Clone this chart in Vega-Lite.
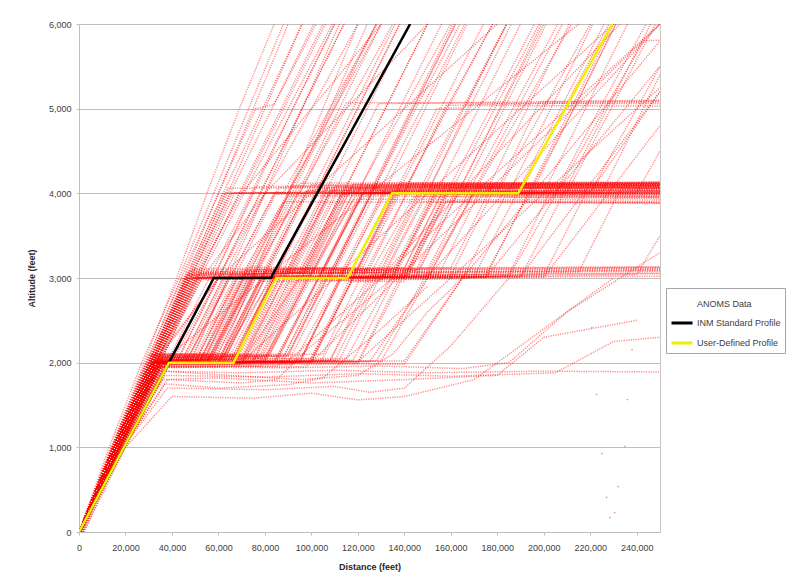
{
"$schema": "https://vega.github.io/schema/vega-lite/v6.json",
"width": 581, "height": 508,
"autosize": {"type": "none"},
"padding": {"left": 79, "top": 24, "right": 136, "bottom": 52},
"background": "white",
"config": {"view": {"stroke": "#c8c8c8"}, "font": "Liberation Sans"},
"datasets": {
"profiles": [
{"s":"INM Standard Profile","x":0,"y":0},{"s":"INM Standard Profile","x":38700,"y":2000},{"s":"INM Standard Profile","x":58000,"y":3000},{"s":"INM Standard Profile","x":82500,"y":3000},{"s":"INM Standard Profile","x":142500,"y":6000},
{"s":"User-Defined Profile","x":0,"y":0},{"s":"User-Defined Profile","x":38700,"y":2000},{"s":"User-Defined Profile","x":66500,"y":2000},{"s":"User-Defined Profile","x":84800,"y":3000},{"s":"User-Defined Profile","x":115500,"y":3000},{"s":"User-Defined Profile","x":134700,"y":4000},{"s":"User-Defined Profile","x":189000,"y":4000},{"s":"User-Defined Profile","x":229500,"y":6000}
],
"dots": [
{"x":222700,"y":1624},{"x":236000,"y":1565},{"x":235000,"y":1010},{"x":225000,"y":927},{"x":232000,"y":537},{"x":227000,"y":408},{"x":230500,"y":230},{"x":228500,"y":171},{"x":220700,"y":2415},{"x":238000,"y":2155}
],
"tracks": [
{"t":1,"x":0,"y":0},{"t":1,"x":15000,"y":1000},{"t":1,"x":31000,"y":2010},{"t":1,"x":48000,"y":2030},{"t":1,"x":65000,"y":3040},{"t":1,"x":98000,"y":3060},{"t":1,"x":116000,"y":4050},{"t":1,"x":250000,"y":4060},
{"t":2,"x":0,"y":0},{"t":2,"x":16000,"y":1000},{"t":2,"x":33000,"y":1990},{"t":2,"x":56000,"y":2000},{"t":2,"x":74000,"y":3000},{"t":2,"x":120000,"y":3010},{"t":2,"x":138000,"y":4000},{"t":2,"x":250000,"y":4010},
{"t":3,"x":1000,"y":0},{"t":3,"x":17500,"y":1000},{"t":3,"x":35000,"y":2050},{"t":3,"x":62000,"y":2060},{"t":3,"x":80000,"y":3080},{"t":3,"x":105000,"y":3090},{"t":3,"x":124000,"y":4080},{"t":3,"x":250000,"y":4100},
{"t":4,"x":0,"y":0},{"t":4,"x":18000,"y":1000},{"t":4,"x":37000,"y":1970},{"t":4,"x":70000,"y":1980},{"t":4,"x":88000,"y":2990},{"t":4,"x":140000,"y":3000},{"t":4,"x":157000,"y":3990},{"t":4,"x":250000,"y":3970},
{"t":5,"x":0,"y":0},{"t":5,"x":15500,"y":1000},{"t":5,"x":32000,"y":2000},{"t":5,"x":52000,"y":2020},{"t":5,"x":70000,"y":3020},{"t":5,"x":90000,"y":3040},{"t":5,"x":108000,"y":4030},{"t":5,"x":250000,"y":4040},
{"t":6,"x":2000,"y":0},{"t":6,"x":19000,"y":1000},{"t":6,"x":38000,"y":2030},{"t":6,"x":80000,"y":2050},{"t":6,"x":99000,"y":3050},{"t":6,"x":135000,"y":3070},{"t":6,"x":153000,"y":4060},{"t":6,"x":250000,"y":4080},
{"t":7,"x":0,"y":0},{"t":7,"x":16500,"y":1000},{"t":7,"x":34000,"y":1950},{"t":7,"x":86000,"y":1960},{"t":7,"x":105000,"y":2970},{"t":7,"x":165000,"y":2990},{"t":7,"x":183000,"y":3950},{"t":7,"x":250000,"y":3940},
{"t":8,"x":0,"y":0},{"t":8,"x":17000,"y":1000},{"t":8,"x":35500,"y":2010},{"t":8,"x":65000,"y":2020},{"t":8,"x":84000,"y":3010},{"t":8,"x":112000,"y":3030},{"t":8,"x":131000,"y":4020},{"t":8,"x":250000,"y":4000},
{"t":9,"x":500,"y":0},{"t":9,"x":16000,"y":1000},{"t":9,"x":33500,"y":2080},{"t":9,"x":58000,"y":2090},{"t":9,"x":76000,"y":3100},{"t":9,"x":125000,"y":3110},{"t":9,"x":143000,"y":4110},{"t":9,"x":250000,"y":4120},
{"t":10,"x":0,"y":0},{"t":10,"x":17500,"y":1000},{"t":10,"x":36000,"y":1980},{"t":10,"x":76000,"y":1990},{"t":10,"x":94000,"y":2980},{"t":10,"x":150000,"y":2990},{"t":10,"x":169000,"y":3980},{"t":10,"x":250000,"y":3960},
{"t":11,"x":0,"y":0},{"t":11,"x":15000,"y":1000},{"t":11,"x":31500,"y":2040},{"t":11,"x":54000,"y":2050},{"t":11,"x":72000,"y":3050},{"t":11,"x":95000,"y":3060},{"t":11,"x":113000,"y":4000},{"t":11,"x":250000,"y":3990},
{"t":12,"x":1500,"y":0},{"t":12,"x":18500,"y":1000},{"t":12,"x":37500,"y":2000},{"t":12,"x":100000,"y":2010},{"t":12,"x":118000,"y":3020},{"t":12,"x":185000,"y":3040},{"t":12,"x":203000,"y":4040},{"t":12,"x":250000,"y":4050},
{"t":13,"x":0,"y":0},{"t":13,"x":16000,"y":1000},{"t":13,"x":33000,"y":2020},{"t":13,"x":60000,"y":2040},{"t":13,"x":98000,"y":4020},{"t":13,"x":250000,"y":4030},
{"t":14,"x":0,"y":0},{"t":14,"x":17000,"y":1000},{"t":14,"x":35000,"y":1990},{"t":14,"x":72000,"y":2000},{"t":14,"x":110000,"y":3990},{"t":14,"x":250000,"y":3980},
{"t":15,"x":1000,"y":0},{"t":15,"x":18000,"y":1000},{"t":15,"x":36500,"y":2060},{"t":15,"x":50000,"y":2070},{"t":15,"x":86000,"y":4070},{"t":15,"x":250000,"y":4090},
{"t":16,"x":0,"y":0},{"t":16,"x":15500,"y":1000},{"t":16,"x":32500,"y":2000},{"t":16,"x":84000,"y":2010},{"t":16,"x":122000,"y":4010},{"t":16,"x":250000,"y":4010},
{"t":17,"x":0,"y":0},{"t":17,"x":16500,"y":1000},{"t":17,"x":34500,"y":1970},{"t":17,"x":92000,"y":1980},{"t":17,"x":132000,"y":4000},{"t":17,"x":250000,"y":4020},
{"t":18,"x":2000,"y":0},{"t":18,"x":20000,"y":1000},{"t":18,"x":40000,"y":2030},{"t":18,"x":68000,"y":2040},{"t":18,"x":106000,"y":4050},{"t":18,"x":250000,"y":4060},
{"t":19,"x":0,"y":0},{"t":19,"x":17500,"y":1000},{"t":19,"x":36000,"y":2000},{"t":19,"x":104000,"y":2010},{"t":19,"x":144000,"y":3960},{"t":19,"x":250000,"y":3950},
{"t":20,"x":0,"y":0},{"t":20,"x":16000,"y":1000},{"t":20,"x":33500,"y":1950},{"t":20,"x":78000,"y":1960},{"t":20,"x":118000,"y":3930},{"t":20,"x":250000,"y":3920},
{"t":21,"x":0,"y":0},{"t":21,"x":18000,"y":1000},{"t":21,"x":37000,"y":2040},{"t":21,"x":115000,"y":2050},{"t":21,"x":155000,"y":4030},{"t":21,"x":250000,"y":4040},
{"t":22,"x":0,"y":0},{"t":22,"x":15000,"y":1000},{"t":22,"x":31000,"y":2000},{"t":22,"x":46000,"y":2010},{"t":22,"x":84000,"y":3990},{"t":22,"x":250000,"y":4000},
{"t":23,"x":0,"y":0},{"t":23,"x":15000,"y":1000},{"t":23,"x":30000,"y":2000},{"t":23,"x":46000,"y":3030},{"t":23,"x":80000,"y":3050},{"t":23,"x":98000,"y":4040},{"t":23,"x":250000,"y":4070},
{"t":24,"x":0,"y":0},{"t":24,"x":16000,"y":1000},{"t":24,"x":32000,"y":2000},{"t":24,"x":49000,"y":3000},{"t":24,"x":108000,"y":3010},{"t":24,"x":126000,"y":4000},{"t":24,"x":250000,"y":4010},
{"t":25,"x":1000,"y":0},{"t":25,"x":17000,"y":1000},{"t":25,"x":34000,"y":2000},{"t":25,"x":52000,"y":3060},{"t":25,"x":92000,"y":3080},{"t":25,"x":110000,"y":4080},{"t":25,"x":250000,"y":4100},
{"t":26,"x":0,"y":0},{"t":26,"x":14000,"y":1000},{"t":26,"x":29000,"y":2000},{"t":26,"x":44000,"y":2990},{"t":26,"x":130000,"y":3000},{"t":26,"x":149000,"y":3990},{"t":26,"x":250000,"y":3990},
{"t":27,"x":0,"y":0},{"t":27,"x":15500,"y":1000},{"t":27,"x":31500,"y":2000},{"t":27,"x":48000,"y":3020},{"t":27,"x":118000,"y":3030},{"t":27,"x":136000,"y":4030},{"t":27,"x":250000,"y":4030},
{"t":28,"x":0,"y":0},{"t":28,"x":16500,"y":1000},{"t":28,"x":33000,"y":2000},{"t":28,"x":50000,"y":2980},{"t":28,"x":72000,"y":2990},{"t":28,"x":90000,"y":3970},{"t":28,"x":250000,"y":3960},
{"t":29,"x":0,"y":0},{"t":29,"x":14500,"y":1000},{"t":29,"x":30000,"y":2000},{"t":29,"x":47000,"y":3040},{"t":29,"x":100000,"y":3060},{"t":29,"x":119000,"y":4060},{"t":29,"x":250000,"y":4070},
{"t":30,"x":0,"y":0},{"t":30,"x":17000,"y":1000},{"t":30,"x":34500,"y":2000},{"t":30,"x":53000,"y":3010},{"t":30,"x":160000,"y":3030},{"t":30,"x":178000,"y":4020},{"t":30,"x":250000,"y":4030},
{"t":31,"x":0,"y":0},{"t":31,"x":15000,"y":1000},{"t":31,"x":31000,"y":2000},{"t":31,"x":47000,"y":3050},{"t":31,"x":250000,"y":3100},
{"t":32,"x":0,"y":0},{"t":32,"x":16500,"y":1000},{"t":32,"x":34000,"y":2030},{"t":32,"x":70000,"y":2040},{"t":32,"x":88000,"y":3060},{"t":32,"x":250000,"y":3080},
{"t":33,"x":0,"y":0},{"t":33,"x":15500,"y":1000},{"t":33,"x":32000,"y":2000},{"t":33,"x":49000,"y":3000},{"t":33,"x":250000,"y":3020},
{"t":34,"x":1000,"y":0},{"t":34,"x":18000,"y":1000},{"t":34,"x":36000,"y":2000},{"t":34,"x":55000,"y":2010},{"t":34,"x":73000,"y":3020},{"t":34,"x":250000,"y":3060},
{"t":35,"x":0,"y":0},{"t":35,"x":14500,"y":1000},{"t":35,"x":30500,"y":2000},{"t":35,"x":46500,"y":3070},{"t":35,"x":250000,"y":3120},
{"t":36,"x":0,"y":0},{"t":36,"x":17000,"y":1000},{"t":36,"x":35000,"y":1990},{"t":36,"x":95000,"y":2000},{"t":36,"x":113000,"y":3040},{"t":36,"x":250000,"y":3050},
{"t":37,"x":0,"y":0},{"t":37,"x":16000,"y":1000},{"t":37,"x":33000,"y":2000},{"t":37,"x":50000,"y":2010},{"t":37,"x":68000,"y":3030},{"t":37,"x":84000,"y":3040},{"t":37,"x":138000,"y":6000},
{"t":38,"x":0,"y":0},{"t":38,"x":15000,"y":1000},{"t":38,"x":31000,"y":2020},{"t":38,"x":64000,"y":2030},{"t":38,"x":82000,"y":3000},{"t":38,"x":108000,"y":3010},{"t":38,"x":162000,"y":6000},
{"t":39,"x":0,"y":0},{"t":39,"x":17000,"y":1000},{"t":39,"x":35000,"y":1980},{"t":39,"x":74000,"y":1990},{"t":39,"x":93000,"y":3050},{"t":39,"x":130000,"y":3060},{"t":39,"x":184000,"y":6000},
{"t":40,"x":0,"y":0},{"t":40,"x":16000,"y":1000},{"t":40,"x":33500,"y":2040},{"t":40,"x":54000,"y":2050},{"t":40,"x":72000,"y":3080},{"t":40,"x":146000,"y":3090},{"t":40,"x":200000,"y":6000},
{"t":41,"x":0,"y":0},{"t":41,"x":15500,"y":1000},{"t":41,"x":32000,"y":2000},{"t":41,"x":45000,"y":2010},{"t":41,"x":63000,"y":3000},{"t":41,"x":170000,"y":3020},{"t":41,"x":226000,"y":6000},
{"t":42,"x":1000,"y":0},{"t":42,"x":17500,"y":1000},{"t":42,"x":35500,"y":2060},{"t":42,"x":88000,"y":2070},{"t":42,"x":106000,"y":3060},{"t":42,"x":120000,"y":3070},{"t":42,"x":174000,"y":6000},
{"t":43,"x":0,"y":0},{"t":43,"x":16500,"y":1000},{"t":43,"x":34000,"y":2000},{"t":43,"x":58000,"y":2000},{"t":43,"x":76000,"y":3010},{"t":43,"x":96000,"y":3020},{"t":43,"x":150000,"y":6000},
{"t":44,"x":0,"y":0},{"t":44,"x":18000,"y":1000},{"t":44,"x":37000,"y":2010},{"t":44,"x":100000,"y":2020},{"t":44,"x":118000,"y":3000},{"t":44,"x":190000,"y":3010},{"t":44,"x":246000,"y":6000},
{"t":45,"x":0,"y":0},{"t":45,"x":15000,"y":1000},{"t":45,"x":31000,"y":2000},{"t":45,"x":42000,"y":2010},{"t":45,"x":114000,"y":6000},
{"t":46,"x":0,"y":0},{"t":46,"x":16000,"y":1000},{"t":46,"x":33000,"y":2030},{"t":46,"x":56000,"y":2040},{"t":46,"x":128000,"y":6000},
{"t":47,"x":0,"y":0},{"t":47,"x":17000,"y":1000},{"t":47,"x":35000,"y":2000},{"t":47,"x":66000,"y":2010},{"t":47,"x":138000,"y":6000},
{"t":48,"x":0,"y":0},{"t":48,"x":15500,"y":1000},{"t":48,"x":32000,"y":1990},{"t":48,"x":48000,"y":2000},{"t":48,"x":112000,"y":6000},
{"t":49,"x":0,"y":0},{"t":49,"x":16500,"y":1000},{"t":49,"x":34000,"y":2050},{"t":49,"x":78000,"y":2060},{"t":49,"x":150000,"y":6000},
{"t":50,"x":0,"y":0},{"t":50,"x":18000,"y":1000},{"t":50,"x":37000,"y":2000},{"t":50,"x":88000,"y":2010},{"t":50,"x":164000,"y":6000},
{"t":51,"x":0,"y":0},{"t":51,"x":16000,"y":1000},{"t":51,"x":33000,"y":2010},{"t":51,"x":108000,"y":2020},{"t":51,"x":184000,"y":6000},
{"t":52,"x":0,"y":0},{"t":52,"x":17500,"y":1000},{"t":52,"x":36000,"y":1980},{"t":52,"x":120000,"y":1990},{"t":52,"x":196000,"y":6000},
{"t":53,"x":0,"y":0},{"t":53,"x":15000,"y":1000},{"t":53,"x":31500,"y":2000},{"t":53,"x":60000,"y":2010},{"t":53,"x":120000,"y":6000},
{"t":54,"x":0,"y":0},{"t":54,"x":16500,"y":1000},{"t":54,"x":34000,"y":2000},{"t":54,"x":128000,"y":2020},{"t":54,"x":212000,"y":6000},
{"t":55,"x":0,"y":0},{"t":55,"x":14000,"y":1000},{"t":55,"x":28000,"y":2000},{"t":55,"x":42000,"y":3000},{"t":55,"x":55000,"y":4000},{"t":55,"x":69000,"y":5000},{"t":55,"x":84000,"y":6000},
{"t":56,"x":0,"y":0},{"t":56,"x":15000,"y":1000},{"t":56,"x":30000,"y":2000},{"t":56,"x":45000,"y":3000},{"t":56,"x":60000,"y":4000},{"t":56,"x":75000,"y":5000},{"t":56,"x":90000,"y":6000},
{"t":57,"x":0,"y":0},{"t":57,"x":13000,"y":1000},{"t":57,"x":27000,"y":2000},{"t":57,"x":43000,"y":3000},{"t":57,"x":58000,"y":4000},{"t":57,"x":73000,"y":5000},{"t":57,"x":88000,"y":6000},
{"t":58,"x":0,"y":0},{"t":58,"x":16000,"y":1000},{"t":58,"x":32000,"y":2000},{"t":58,"x":48000,"y":3000},{"t":58,"x":64000,"y":4000},{"t":58,"x":80000,"y":5000},{"t":58,"x":96000,"y":6000},
{"t":59,"x":0,"y":0},{"t":59,"x":15000,"y":1000},{"t":59,"x":31000,"y":2000},{"t":59,"x":48000,"y":3000},{"t":59,"x":65000,"y":4000},{"t":59,"x":83000,"y":5000},{"t":59,"x":101000,"y":6000},
{"t":60,"x":0,"y":0},{"t":60,"x":16000,"y":1000},{"t":60,"x":33000,"y":2000},{"t":60,"x":51000,"y":3000},{"t":60,"x":69000,"y":4000},{"t":60,"x":87000,"y":5000},{"t":60,"x":105000,"y":6000},
{"t":61,"x":0,"y":0},{"t":61,"x":17000,"y":1000},{"t":61,"x":34000,"y":1900},{"t":61,"x":70000,"y":1880},{"t":61,"x":110000,"y":1910},{"t":61,"x":150000,"y":1880},{"t":61,"x":200000,"y":1900},{"t":61,"x":250000,"y":1890},
{"t":62,"x":0,"y":0},{"t":62,"x":18000,"y":1000},{"t":62,"x":36000,"y":1800},{"t":62,"x":60000,"y":1820},{"t":62,"x":100000,"y":1760},{"t":62,"x":140000,"y":1800},{"t":62,"x":180000,"y":1850},{"t":62,"x":200000,"y":2300},{"t":62,"x":240000,"y":2500},
{"t":63,"x":1000,"y":0},{"t":63,"x":19000,"y":1000},{"t":63,"x":38000,"y":1700},{"t":63,"x":80000,"y":1680},{"t":63,"x":110000,"y":1720},{"t":63,"x":125000,"y":1650},{"t":63,"x":140000,"y":1700},{"t":63,"x":160000,"y":2200},{"t":63,"x":185000,"y":3000},
{"t":64,"x":0,"y":0},{"t":64,"x":17500,"y":1000},{"t":64,"x":35000,"y":1950},{"t":64,"x":90000,"y":1940},{"t":64,"x":130000,"y":1960},{"t":64,"x":165000,"y":1930},{"t":64,"x":185000,"y":2000},{"t":64,"x":210000,"y":2600},{"t":64,"x":250000,"y":3300},
{"t":65,"x":0,"y":0},{"t":65,"x":20000,"y":1000},{"t":65,"x":40000,"y":1600},{"t":65,"x":75000,"y":1580},{"t":65,"x":100000,"y":1640},{"t":65,"x":120000,"y":1560},{"t":65,"x":140000,"y":1600},{"t":65,"x":170000,"y":1800},{"t":65,"x":200000,"y":2400},{"t":65,"x":230000,"y":3000},
{"t":66,"x":0,"y":0},{"t":66,"x":16000,"y":1000},{"t":66,"x":33000,"y":2000},{"t":66,"x":60000,"y":2010},{"t":66,"x":78000,"y":3000},{"t":66,"x":96000,"y":3010},{"t":66,"x":114000,"y":4000},{"t":66,"x":150000,"y":4010},{"t":66,"x":168000,"y":5050},{"t":66,"x":250000,"y":5080},
{"t":67,"x":0,"y":0},{"t":67,"x":15500,"y":1000},{"t":67,"x":32000,"y":2000},{"t":67,"x":49000,"y":3000},{"t":67,"x":66000,"y":4000},{"t":67,"x":110000,"y":4020},{"t":67,"x":129000,"y":5060},{"t":67,"x":250000,"y":5100},
{"t":68,"x":0,"y":0},{"t":68,"x":17000,"y":1000},{"t":68,"x":35000,"y":2030},{"t":68,"x":70000,"y":2040},{"t":68,"x":108000,"y":4030},{"t":68,"x":180000,"y":4040},{"t":68,"x":198000,"y":5080},{"t":68,"x":250000,"y":5090},
{"t":69,"x":0,"y":0},{"t":69,"x":16000,"y":1000},{"t":69,"x":33000,"y":2000},{"t":69,"x":51000,"y":3000},{"t":69,"x":69000,"y":4000},{"t":69,"x":95000,"y":4010},{"t":69,"x":115000,"y":5070},{"t":69,"x":250000,"y":5060},
{"t":70,"x":0,"y":0},{"t":70,"x":16500,"y":1000},{"t":70,"x":34000,"y":1990},{"t":70,"x":84000,"y":2000},{"t":70,"x":122000,"y":4000},{"t":70,"x":140000,"y":4010},{"t":70,"x":158000,"y":5040},{"t":70,"x":250000,"y":5030},
{"t":71,"x":0,"y":0},{"t":71,"x":16000,"y":1000},{"t":71,"x":33000,"y":2000},{"t":71,"x":56000,"y":2010},{"t":71,"x":94000,"y":4000},{"t":71,"x":120000,"y":4010},{"t":71,"x":156000,"y":6000},
{"t":72,"x":0,"y":0},{"t":72,"x":15000,"y":1000},{"t":72,"x":31000,"y":2000},{"t":72,"x":48000,"y":3030},{"t":72,"x":80000,"y":3040},{"t":72,"x":98000,"y":4030},{"t":72,"x":140000,"y":4040},{"t":72,"x":178000,"y":6000},
{"t":73,"x":0,"y":0},{"t":73,"x":16500,"y":1000},{"t":73,"x":34000,"y":2000},{"t":73,"x":70000,"y":2010},{"t":73,"x":108000,"y":4010},{"t":73,"x":160000,"y":4020},{"t":73,"x":198000,"y":6000},
{"t":74,"x":0,"y":0},{"t":74,"x":17000,"y":1000},{"t":74,"x":35000,"y":2000},{"t":74,"x":62000,"y":2000},{"t":74,"x":80000,"y":3000},{"t":74,"x":104000,"y":3010},{"t":74,"x":122000,"y":4000},{"t":74,"x":190000,"y":4020},{"t":74,"x":228000,"y":6000},
{"t":75,"x":0,"y":0},{"t":75,"x":15500,"y":1000},{"t":75,"x":32000,"y":2000},{"t":75,"x":80000,"y":2020},{"t":75,"x":118000,"y":4000},{"t":75,"x":210000,"y":4010},{"t":75,"x":248000,"y":6000},
{"t":76,"x":0,"y":0},{"t":76,"x":16000,"y":1000},{"t":76,"x":33000,"y":2000},{"t":76,"x":50000,"y":3000},{"t":76,"x":67000,"y":4000},{"t":76,"x":100000,"y":4010},{"t":76,"x":136000,"y":6000},
{"t":77,"x":0,"y":0},{"t":77,"x":17500,"y":1000},{"t":77,"x":36000,"y":2000},{"t":77,"x":90000,"y":2010},{"t":77,"x":128000,"y":4030},{"t":77,"x":170000,"y":4040},{"t":77,"x":208000,"y":6000},
{"t":78,"x":0,"y":0},{"t":78,"x":16000,"y":1000},{"t":78,"x":33000,"y":2000},{"t":78,"x":46000,"y":2000},{"t":78,"x":84000,"y":4000},{"t":78,"x":90000,"y":4010},{"t":78,"x":128000,"y":6000},
{"t":79,"x":0,"y":0},{"t":79,"x":17000,"y":1000},{"t":79,"x":35000,"y":2000},{"t":79,"x":125000,"y":2010},{"t":79,"x":150000,"y":3000},{"t":79,"x":175000,"y":3010},{"t":79,"x":250000,"y":5500},
{"t":80,"x":0,"y":0},{"t":80,"x":16000,"y":1000},{"t":80,"x":33000,"y":2000},{"t":80,"x":140000,"y":1980},{"t":80,"x":165000,"y":3000},{"t":80,"x":200000,"y":3010},{"t":80,"x":250000,"y":4800},
{"t":81,"x":0,"y":0},{"t":81,"x":17000,"y":1000},{"t":81,"x":35000,"y":2000},{"t":81,"x":70000,"y":2010},{"t":81,"x":95000,"y":3000},{"t":81,"x":130000,"y":3020},{"t":81,"x":250000,"y":6500},
{"t":82,"x":0,"y":0},{"t":82,"x":16500,"y":1000},{"t":82,"x":34000,"y":2000},{"t":82,"x":60000,"y":2000},{"t":82,"x":83000,"y":3000},{"t":82,"x":150000,"y":3020},{"t":82,"x":250000,"y":6000},
{"t":83,"x":0,"y":0},{"t":83,"x":15500,"y":1000},{"t":83,"x":32000,"y":2000},{"t":83,"x":100000,"y":2010},{"t":83,"x":250000,"y":6000},
{"t":84,"x":0,"y":0},{"t":84,"x":18000,"y":1000},{"t":84,"x":36000,"y":2000},{"t":84,"x":140000,"y":2020},{"t":84,"x":165000,"y":3000},{"t":84,"x":250000,"y":5800},
{"t":85,"x":0,"y":0},{"t":85,"x":16000,"y":1000},{"t":85,"x":33000,"y":2000},{"t":85,"x":50000,"y":3000},{"t":85,"x":190000,"y":3020},{"t":85,"x":250000,"y":5200},
{"t":86,"x":0,"y":0},{"t":86,"x":17000,"y":1000},{"t":86,"x":35000,"y":2000},{"t":86,"x":80000,"y":2010},{"t":86,"x":100000,"y":3000},{"t":86,"x":150000,"y":3010},{"t":86,"x":170000,"y":4000},{"t":86,"x":220000,"y":4020},{"t":86,"x":250000,"y":5200},
{"t":87,"x":0,"y":0},{"t":87,"x":19000,"y":1000},{"t":87,"x":37000,"y":1750},{"t":87,"x":60000,"y":1700},{"t":87,"x":90000,"y":1740},{"t":87,"x":105000,"y":1820},{"t":87,"x":130000,"y":2400},{"t":87,"x":150000,"y":2900},
{"t":88,"x":0,"y":0},{"t":88,"x":18500,"y":1000},{"t":88,"x":37000,"y":1850},{"t":88,"x":80000,"y":1830},{"t":88,"x":120000,"y":1870},{"t":88,"x":160000,"y":1840},{"t":88,"x":205000,"y":1880},{"t":88,"x":230000,"y":2250},{"t":88,"x":250000,"y":2300},
{"t":89,"x":0,"y":0},{"t":89,"x":16000,"y":1000},{"t":89,"x":33000,"y":2000},{"t":89,"x":52000,"y":2010},{"t":89,"x":70000,"y":3000},{"t":89,"x":88000,"y":3010},{"t":89,"x":106000,"y":4000},{"t":89,"x":175000,"y":4010},{"t":89,"x":211000,"y":6000},
{"t":90,"x":0,"y":0},{"t":90,"x":15500,"y":1000},{"t":90,"x":32000,"y":2000},{"t":90,"x":48000,"y":3000},{"t":90,"x":65000,"y":4000},{"t":90,"x":195000,"y":4020},{"t":90,"x":231000,"y":6000},
{"t":91,"x":0,"y":0},{"t":91,"x":17000,"y":1000},{"t":91,"x":35000,"y":2000},{"t":91,"x":75000,"y":2010},{"t":91,"x":113000,"y":4000},{"t":91,"x":225000,"y":4010},{"t":91,"x":250000,"y":5400},
{"t":92,"x":0,"y":0},{"t":92,"x":16500,"y":1000},{"t":92,"x":34000,"y":2000},{"t":92,"x":46000,"y":2000},{"t":92,"x":64000,"y":3000},{"t":92,"x":140000,"y":3010},{"t":92,"x":158000,"y":4000},{"t":92,"x":200000,"y":4010},{"t":92,"x":236000,"y":6000},
{"t":93,"x":0,"y":0},{"t":93,"x":16000,"y":1000},{"t":93,"x":33000,"y":2000},{"t":93,"x":95000,"y":2010},{"t":93,"x":113000,"y":3000},{"t":93,"x":135000,"y":3010},{"t":93,"x":153000,"y":4000},{"t":93,"x":165000,"y":4010},{"t":93,"x":201000,"y":6000},
{"t":94,"x":0,"y":0},{"t":94,"x":15000,"y":1000},{"t":94,"x":31000,"y":2000},{"t":94,"x":47000,"y":3000},{"t":94,"x":58000,"y":3010},{"t":94,"x":75000,"y":4000},{"t":94,"x":92000,"y":5000},{"t":94,"x":110000,"y":6000},
{"t":95,"x":0,"y":0},{"t":95,"x":14500,"y":1000},{"t":95,"x":30000,"y":2000},{"t":95,"x":46000,"y":3000},{"t":95,"x":62000,"y":4000},{"t":95,"x":79000,"y":5000},{"t":95,"x":96000,"y":6000},
{"t":96,"x":0,"y":0},{"t":96,"x":16000,"y":1000},{"t":96,"x":33000,"y":2000},{"t":96,"x":52000,"y":3000},{"t":96,"x":71000,"y":4000},{"t":96,"x":90000,"y":5000},{"t":96,"x":109000,"y":6000},
{"t":97,"x":0,"y":0},{"t":97,"x":16500,"y":1000},{"t":97,"x":34000,"y":2000},{"t":97,"x":66000,"y":2010},{"t":97,"x":84000,"y":3000},{"t":97,"x":200000,"y":3030},{"t":97,"x":218000,"y":4000},{"t":97,"x":250000,"y":4020},
{"t":98,"x":0,"y":0},{"t":98,"x":17000,"y":1000},{"t":98,"x":35000,"y":2000},{"t":98,"x":52000,"y":3050},{"t":98,"x":215000,"y":3070},{"t":98,"x":233000,"y":4050},{"t":98,"x":250000,"y":4060},
{"t":99,"x":0,"y":0},{"t":99,"x":15500,"y":1000},{"t":99,"x":32000,"y":2000},{"t":99,"x":58000,"y":2010},{"t":99,"x":76000,"y":3000},{"t":99,"x":175000,"y":3040},{"t":99,"x":213000,"y":5000},{"t":99,"x":231000,"y":6000},
{"t":100,"x":0,"y":0},{"t":100,"x":16000,"y":1000},{"t":100,"x":33000,"y":2000},{"t":100,"x":110000,"y":2020},{"t":100,"x":128000,"y":3000},{"t":100,"x":240000,"y":3040},{"t":100,"x":250000,"y":3500},
{"t":101,"x":0,"y":0},{"t":101,"x":15000,"y":1000},{"t":101,"x":31000,"y":2090},{"t":101,"x":75000,"y":2100},{"t":101,"x":93000,"y":3110},{"t":101,"x":140000,"y":3120},{"t":101,"x":158000,"y":4110},{"t":101,"x":250000,"y":4120},
{"t":102,"x":0,"y":0},{"t":102,"x":16000,"y":1000},{"t":102,"x":33000,"y":2100},{"t":102,"x":64000,"y":2110},{"t":102,"x":100000,"y":4100},{"t":102,"x":250000,"y":4110},
{"t":103,"x":0,"y":0},{"t":103,"x":15500,"y":1000},{"t":103,"x":32000,"y":2070},{"t":103,"x":82000,"y":2090},{"t":103,"x":100000,"y":3090},{"t":103,"x":150000,"y":3100},{"t":103,"x":206000,"y":6000},
{"t":104,"x":0,"y":0},{"t":104,"x":17000,"y":1000},{"t":104,"x":34000,"y":1960},{"t":104,"x":98000,"y":1950},{"t":104,"x":116000,"y":2960},{"t":104,"x":140000,"y":2960},{"t":104,"x":158000,"y":3900},{"t":104,"x":250000,"y":3890},
{"t":105,"x":0,"y":0},{"t":105,"x":16000,"y":1000},{"t":105,"x":33000,"y":2110},{"t":105,"x":55000,"y":2100},{"t":105,"x":73000,"y":3130},{"t":105,"x":110000,"y":3120},{"t":105,"x":128000,"y":4120},{"t":105,"x":250000,"y":4130},
{"t":106,"x":0,"y":0},{"t":106,"x":14500,"y":1000},{"t":106,"x":30000,"y":2090},{"t":106,"x":70000,"y":2080},{"t":106,"x":88000,"y":3100},{"t":106,"x":250000,"y":3130},
{"t":107,"x":0,"y":0},{"t":107,"x":16500,"y":1000},{"t":107,"x":34000,"y":2070},{"t":107,"x":90000,"y":2080},{"t":107,"x":162000,"y":6000},
{"t":108,"x":0,"y":0},{"t":108,"x":17000,"y":1000},{"t":108,"x":35000,"y":1940},{"t":108,"x":60000,"y":1950},{"t":108,"x":78000,"y":2960},{"t":108,"x":130000,"y":2970},{"t":108,"x":148000,"y":3900},{"t":108,"x":250000,"y":3880},
{"t":109,"x":0,"y":0},{"t":109,"x":15500,"y":1000},{"t":109,"x":32000,"y":2100},{"t":109,"x":105000,"y":2100},{"t":109,"x":123000,"y":3110},{"t":109,"x":160000,"y":3120},{"t":109,"x":178000,"y":4110},{"t":109,"x":250000,"y":4100},
{"t":110,"x":0,"y":0},{"t":110,"x":16000,"y":1000},{"t":110,"x":33000,"y":2060},{"t":110,"x":66000,"y":2070},{"t":110,"x":104000,"y":4060},{"t":110,"x":130000,"y":4070},{"t":110,"x":166000,"y":6000},
{"t":111,"x":0,"y":0},{"t":111,"x":15000,"y":1000},{"t":111,"x":31000,"y":2000},{"t":111,"x":52000,"y":2020},{"t":111,"x":100000,"y":4500},{"t":111,"x":124000,"y":6000},
{"t":112,"x":0,"y":0},{"t":112,"x":16000,"y":1000},{"t":112,"x":33000,"y":2000},{"t":112,"x":40000,"y":2010},{"t":112,"x":80000,"y":4000},{"t":112,"x":120000,"y":6000},
{"t":113,"x":0,"y":0},{"t":113,"x":15500,"y":1000},{"t":113,"x":32000,"y":2000},{"t":113,"x":46000,"y":3000},{"t":113,"x":70000,"y":3020},{"t":113,"x":130000,"y":6000},
{"t":114,"x":0,"y":0},{"t":114,"x":16500,"y":1000},{"t":114,"x":34000,"y":2040},{"t":114,"x":60000,"y":3000},{"t":114,"x":100000,"y":3030},{"t":114,"x":160000,"y":6000},
{"t":115,"x":0,"y":0},{"t":115,"x":17000,"y":1000},{"t":115,"x":35000,"y":2000},{"t":115,"x":55000,"y":2020},{"t":115,"x":135000,"y":6000},
{"t":116,"x":0,"y":0},{"t":116,"x":15000,"y":1000},{"t":116,"x":31000,"y":2000},{"t":116,"x":47000,"y":3000},{"t":116,"x":63000,"y":4000},{"t":116,"x":88000,"y":4010},{"t":116,"x":128000,"y":6000},
{"t":117,"x":0,"y":0},{"t":117,"x":16000,"y":1000},{"t":117,"x":33000,"y":2000},{"t":117,"x":130000,"y":2020},{"t":117,"x":150000,"y":3000},{"t":117,"x":175000,"y":3010},{"t":117,"x":230000,"y":6000},
{"t":118,"x":0,"y":0},{"t":118,"x":16500,"y":1000},{"t":118,"x":34000,"y":2000},{"t":118,"x":50000,"y":2000},{"t":118,"x":68000,"y":3000},{"t":118,"x":185000,"y":3020},{"t":118,"x":243000,"y":5800},{"t":118,"x":250000,"y":5810},
{"t":119,"x":0,"y":0},{"t":119,"x":15500,"y":1000},{"t":119,"x":32000,"y":2000},{"t":119,"x":62000,"y":2010},{"t":119,"x":80000,"y":3000},{"t":119,"x":135000,"y":3020},{"t":119,"x":153000,"y":4000},{"t":119,"x":180000,"y":4010},{"t":119,"x":220000,"y":6000},
{"t":120,"x":0,"y":0},{"t":120,"x":17000,"y":1000},{"t":120,"x":35000,"y":2000},{"t":120,"x":44000,"y":2010},{"t":120,"x":62000,"y":3000},{"t":120,"x":90000,"y":3010},{"t":120,"x":108000,"y":4000},{"t":120,"x":140000,"y":4010},{"t":120,"x":158000,"y":5000},{"t":120,"x":178000,"y":6000},
{"t":121,"x":0,"y":0},{"t":121,"x":16000,"y":1000},{"t":121,"x":33000,"y":2000},{"t":121,"x":71000,"y":2010},{"t":121,"x":90000,"y":3000},{"t":121,"x":122000,"y":3010},{"t":121,"x":141000,"y":4000},{"t":121,"x":205000,"y":4010},{"t":121,"x":224000,"y":5000},{"t":121,"x":244000,"y":6000},
{"t":122,"x":0,"y":0},{"t":122,"x":15000,"y":1000},{"t":122,"x":31000,"y":2000},{"t":122,"x":57000,"y":2010},{"t":122,"x":75000,"y":3000},{"t":122,"x":88000,"y":3010},{"t":122,"x":106000,"y":4000},{"t":122,"x":220000,"y":4010},{"t":122,"x":240000,"y":5000},{"t":122,"x":250000,"y":5500},
{"t":123,"x":0,"y":0},{"t":123,"x":14000,"y":1000},{"t":123,"x":29000,"y":2000},{"t":123,"x":44000,"y":3000},{"t":123,"x":60000,"y":4000},{"t":123,"x":76000,"y":5000},{"t":123,"x":84000,"y":5050},{"t":123,"x":102000,"y":6000},
{"t":124,"x":0,"y":0},{"t":124,"x":15000,"y":1000},{"t":124,"x":31000,"y":2000},{"t":124,"x":50000,"y":3000},{"t":124,"x":70000,"y":4000},{"t":124,"x":100000,"y":5000},{"t":124,"x":130000,"y":6000},
{"t":125,"x":0,"y":0},{"t":125,"x":16000,"y":1000},{"t":125,"x":33000,"y":2000},{"t":125,"x":53000,"y":3000},{"t":125,"x":80000,"y":4000},{"t":125,"x":115000,"y":5000},{"t":125,"x":150000,"y":6000},
{"t":126,"x":0,"y":0},{"t":126,"x":15500,"y":1000},{"t":126,"x":32000,"y":2000},{"t":126,"x":60000,"y":3000},{"t":126,"x":100000,"y":4000},{"t":126,"x":140000,"y":5000},{"t":126,"x":180000,"y":6000},
{"t":127,"x":0,"y":0},{"t":127,"x":17000,"y":1000},{"t":127,"x":35000,"y":2000},{"t":127,"x":80000,"y":3000},{"t":127,"x":125000,"y":4000},{"t":127,"x":170000,"y":5000},{"t":127,"x":215000,"y":6000},
{"t":128,"x":0,"y":0},{"t":128,"x":16000,"y":1000},{"t":128,"x":33000,"y":2000},{"t":128,"x":70000,"y":2010},{"t":128,"x":110000,"y":3000},{"t":128,"x":150000,"y":4000},{"t":128,"x":190000,"y":5000},{"t":128,"x":230000,"y":6000},
{"t":129,"x":0,"y":0},{"t":129,"x":15000,"y":1000},{"t":129,"x":31000,"y":2000},{"t":129,"x":90000,"y":2020},{"t":129,"x":130000,"y":3000},{"t":129,"x":170000,"y":4000},{"t":129,"x":210000,"y":5000},{"t":129,"x":250000,"y":6000},
{"t":130,"x":0,"y":0},{"t":130,"x":16500,"y":1000},{"t":130,"x":34000,"y":2000},{"t":130,"x":120000,"y":2010},{"t":130,"x":160000,"y":3000},{"t":130,"x":200000,"y":4000},{"t":130,"x":240000,"y":5000},{"t":130,"x":250000,"y":5250},
{"t":131,"x":0,"y":0},{"t":131,"x":18000,"y":1000},{"t":131,"x":36000,"y":1900},{"t":131,"x":65000,"y":1850},{"t":131,"x":95000,"y":1800},{"t":131,"x":120000,"y":1850},{"t":131,"x":135000,"y":2100},{"t":131,"x":150000,"y":2600},{"t":131,"x":165000,"y":3000},{"t":131,"x":200000,"y":3050},
{"t":132,"x":0,"y":0},{"t":132,"x":19000,"y":1000},{"t":132,"x":38000,"y":1800},{"t":132,"x":70000,"y":1760},{"t":132,"x":85000,"y":1800},{"t":132,"x":100000,"y":2200},{"t":132,"x":118000,"y":2600},{"t":132,"x":135000,"y":3000},{"t":132,"x":180000,"y":3020},
{"t":133,"x":0,"y":0},{"t":133,"x":16000,"y":1000},{"t":133,"x":33000,"y":2000},{"t":133,"x":48000,"y":3000},{"t":133,"x":70000,"y":3010},{"t":133,"x":88000,"y":3900},{"t":133,"x":250000,"y":3890},
{"t":134,"x":0,"y":0},{"t":134,"x":15500,"y":1000},{"t":134,"x":32000,"y":2020},{"t":134,"x":56000,"y":2030},{"t":134,"x":95000,"y":4120},{"t":134,"x":250000,"y":4130},
{"t":135,"x":0,"y":0},{"t":135,"x":17000,"y":1000},{"t":135,"x":35000,"y":2000},{"t":135,"x":52000,"y":3000},{"t":135,"x":140000,"y":3010},{"t":135,"x":158000,"y":3910},{"t":135,"x":250000,"y":3900},
{"t":136,"x":0,"y":0},{"t":136,"x":16500,"y":1000},{"t":136,"x":34000,"y":2060},{"t":136,"x":80000,"y":2070},{"t":136,"x":118000,"y":4110},{"t":136,"x":250000,"y":4120},
{"t":137,"x":0,"y":0},{"t":137,"x":15000,"y":1000},{"t":137,"x":31500,"y":2080},{"t":137,"x":90000,"y":2090},{"t":137,"x":108000,"y":3100},{"t":137,"x":250000,"y":3110},
{"t":138,"x":0,"y":0},{"t":138,"x":16000,"y":1000},{"t":138,"x":33000,"y":2040},{"t":138,"x":100000,"y":2050},{"t":138,"x":138000,"y":4070},{"t":138,"x":250000,"y":4080},
{"t":139,"x":0,"y":0},{"t":139,"x":16500,"y":1000},{"t":139,"x":34000,"y":2010},{"t":139,"x":112000,"y":2030},{"t":139,"x":130000,"y":3040},{"t":139,"x":155000,"y":3050},{"t":139,"x":173000,"y":4060},{"t":139,"x":250000,"y":4070},
{"t":140,"x":0,"y":0},{"t":140,"x":17000,"y":1000},{"t":140,"x":35000,"y":2090},{"t":140,"x":68000,"y":2100},{"t":140,"x":86000,"y":3110},{"t":140,"x":118000,"y":3120},{"t":140,"x":136000,"y":4100},{"t":140,"x":250000,"y":4110},
{"t":141,"x":0,"y":0},{"t":141,"x":15500,"y":1000},{"t":141,"x":32500,"y":2020},{"t":141,"x":118000,"y":2030},{"t":141,"x":190000,"y":6000},
{"t":142,"x":0,"y":0},{"t":142,"x":16000,"y":1000},{"t":142,"x":33500,"y":2060},{"t":142,"x":86000,"y":2080},{"t":142,"x":124000,"y":4090},{"t":142,"x":250000,"y":4100},
{"t":143,"x":0,"y":0},{"t":143,"x":14500,"y":1000},{"t":143,"x":30500,"y":2030},{"t":143,"x":62000,"y":2050},{"t":143,"x":80000,"y":3060},{"t":143,"x":250000,"y":3090},
{"t":144,"x":0,"y":0},{"t":144,"x":17500,"y":1000},{"t":144,"x":36000,"y":2070},{"t":144,"x":96000,"y":2080},{"t":144,"x":114000,"y":3090},{"t":144,"x":130000,"y":3100},{"t":144,"x":148000,"y":4090},{"t":144,"x":250000,"y":4100},
{"t":145,"x":0,"y":0},{"t":145,"x":15000,"y":1000},{"t":145,"x":31000,"y":2000},{"t":145,"x":48000,"y":3090},{"t":145,"x":120000,"y":3110},{"t":145,"x":138000,"y":4120},{"t":145,"x":250000,"y":4130},
{"t":146,"x":0,"y":0},{"t":146,"x":16000,"y":1000},{"t":146,"x":33000,"y":2000},{"t":146,"x":50000,"y":3070},{"t":146,"x":145000,"y":3090},{"t":146,"x":163000,"y":4080},{"t":146,"x":250000,"y":4090},
{"t":147,"x":0,"y":0},{"t":147,"x":15500,"y":1000},{"t":147,"x":32000,"y":2000},{"t":147,"x":49000,"y":3110},{"t":147,"x":250000,"y":3130},
{"t":148,"x":0,"y":0},{"t":148,"x":16500,"y":1000},{"t":148,"x":34000,"y":2020},{"t":148,"x":52000,"y":2030},{"t":148,"x":70000,"y":3090},{"t":148,"x":100000,"y":3110},{"t":148,"x":118000,"y":4100},{"t":148,"x":250000,"y":4110},
{"t":149,"x":0,"y":0},{"t":149,"x":15000,"y":1000},{"t":149,"x":31000,"y":2000},{"t":149,"x":47000,"y":3000},{"t":149,"x":64000,"y":4060},{"t":149,"x":250000,"y":4090},
{"t":150,"x":0,"y":0},{"t":150,"x":16000,"y":1000},{"t":150,"x":33000,"y":2000},{"t":150,"x":50000,"y":3000},{"t":150,"x":58000,"y":3010},{"t":150,"x":76000,"y":4080},{"t":150,"x":250000,"y":4110},
{"t":151,"x":0,"y":0},{"t":151,"x":17000,"y":1000},{"t":151,"x":35000,"y":2000},{"t":151,"x":54000,"y":2010},{"t":151,"x":92000,"y":4090},{"t":151,"x":250000,"y":4120},
{"t":152,"x":0,"y":0},{"t":152,"x":15500,"y":1000},{"t":152,"x":32000,"y":2000},{"t":152,"x":66000,"y":2010},{"t":152,"x":84000,"y":3050},{"t":152,"x":96000,"y":3060},{"t":152,"x":114000,"y":4070},{"t":152,"x":250000,"y":4090},
{"t":153,"x":0,"y":0},{"t":153,"x":16500,"y":1000},{"t":153,"x":34000,"y":2000},{"t":153,"x":78000,"y":2020},{"t":153,"x":116000,"y":4060},{"t":153,"x":250000,"y":4080},
{"t":154,"x":0,"y":0},{"t":154,"x":16000,"y":1000},{"t":154,"x":33000,"y":2000},{"t":154,"x":108000,"y":2030},{"t":154,"x":126000,"y":3040},{"t":154,"x":142000,"y":3050},{"t":154,"x":160000,"y":4070},{"t":154,"x":250000,"y":4060},
{"t":155,"x":0,"y":0},{"t":155,"x":15000,"y":1000},{"t":155,"x":31000,"y":2000},{"t":155,"x":38000,"y":2010},{"t":155,"x":56000,"y":3000},{"t":155,"x":74000,"y":4000},{"t":155,"x":92000,"y":5000},{"t":155,"x":110000,"y":6000},
{"t":156,"x":0,"y":0},{"t":156,"x":16000,"y":1000},{"t":156,"x":33000,"y":2000},{"t":156,"x":50000,"y":2010},{"t":156,"x":68000,"y":3000},{"t":156,"x":76000,"y":3010},{"t":156,"x":94000,"y":4000},{"t":156,"x":112000,"y":5000},{"t":156,"x":130000,"y":6000},
{"t":157,"x":0,"y":0},{"t":157,"x":15500,"y":1000},{"t":157,"x":32000,"y":2000},{"t":157,"x":60000,"y":2010},{"t":157,"x":78000,"y":3000},{"t":157,"x":96000,"y":4000},{"t":157,"x":106000,"y":4010},{"t":157,"x":124000,"y":5000},{"t":157,"x":142000,"y":6000},
{"t":158,"x":0,"y":0},{"t":158,"x":17000,"y":1000},{"t":158,"x":35000,"y":2000},{"t":158,"x":75000,"y":2010},{"t":158,"x":93000,"y":3000},{"t":158,"x":111000,"y":4000},{"t":158,"x":125000,"y":4010},{"t":158,"x":143000,"y":5000},{"t":158,"x":161000,"y":6000},
{"t":159,"x":0,"y":0},{"t":159,"x":16500,"y":1000},{"t":159,"x":34000,"y":2000},{"t":159,"x":95000,"y":2010},{"t":159,"x":113000,"y":3000},{"t":159,"x":131000,"y":4000},{"t":159,"x":149000,"y":5000},{"t":159,"x":167000,"y":6000},
{"t":160,"x":0,"y":0},{"t":160,"x":16000,"y":1000},{"t":160,"x":33000,"y":2000},{"t":160,"x":55000,"y":2010},{"t":160,"x":73000,"y":3000},{"t":160,"x":145000,"y":3010},{"t":160,"x":163000,"y":4000},{"t":160,"x":181000,"y":5000},{"t":160,"x":199000,"y":6000},
{"t":161,"x":0,"y":0},{"t":161,"x":15000,"y":1000},{"t":161,"x":31000,"y":2000},{"t":161,"x":44000,"y":2010},{"t":161,"x":62000,"y":3000},{"t":161,"x":80000,"y":4000},{"t":161,"x":150000,"y":4010},{"t":161,"x":168000,"y":5000},{"t":161,"x":186000,"y":6000},
{"t":162,"x":0,"y":0},{"t":162,"x":17500,"y":1000},{"t":162,"x":36000,"y":2000},{"t":162,"x":85000,"y":2010},{"t":162,"x":103000,"y":3000},{"t":162,"x":121000,"y":4000},{"t":162,"x":185000,"y":4010},{"t":162,"x":203000,"y":5000},{"t":162,"x":221000,"y":6000},
{"t":163,"x":0,"y":0},{"t":163,"x":14500,"y":1000},{"t":163,"x":29500,"y":2000},{"t":163,"x":46000,"y":3000},{"t":163,"x":62000,"y":4000},{"t":163,"x":70000,"y":4010},{"t":163,"x":88000,"y":5000},{"t":163,"x":106000,"y":6000},
{"t":164,"x":0,"y":0},{"t":164,"x":16000,"y":1000},{"t":164,"x":33000,"y":2000},{"t":164,"x":42000,"y":2010},{"t":164,"x":60000,"y":3000},{"t":164,"x":78000,"y":4000},{"t":164,"x":96000,"y":5000},{"t":164,"x":114000,"y":6000},
{"t":165,"x":0,"y":0},{"t":165,"x":15000,"y":1000},{"t":165,"x":31000,"y":2000},{"t":165,"x":100000,"y":2010},{"t":165,"x":118000,"y":3000},{"t":165,"x":136000,"y":4000},{"t":165,"x":154000,"y":5000},{"t":165,"x":166000,"y":5010},{"t":165,"x":184000,"y":6000},
{"t":166,"x":0,"y":0},{"t":166,"x":16500,"y":1000},{"t":166,"x":34000,"y":2000},{"t":166,"x":120000,"y":2010},{"t":166,"x":138000,"y":3000},{"t":166,"x":156000,"y":4000},{"t":166,"x":240000,"y":4010},{"t":166,"x":250000,"y":4500}
]
},
"encoding": {
  "x": {"field": "x", "type": "quantitative", "scale": {"domain": [0, 250000], "nice": false, "zero": false},
        "axis": {"title": "Distance (feet)", "values": [0,20000,40000,60000,80000,100000,120000,140000,160000,180000,200000,220000,240000], "format": ",d", "grid": false, "tickSize": 3, "tickColor": "#bfbfbf", "domainColor": "#bfbfbf", "labelFontSize": 9, "labelColor": "#404040", "labelPadding": 8, "labelFlush": false, "titleFontSize": 9, "titleFontWeight": "bold", "titleColor": "#262626", "titlePadding": 10}},
  "y": {"field": "y", "type": "quantitative", "scale": {"domain": [0, 6000], "nice": false},
        "axis": {"title": "Altitude (feet)", "values": [0,1000,2000,3000,4000,5000,6000], "format": ",d", "grid": true, "gridColor": "#c0c0c0", "tickSize": 3, "tickColor": "#bfbfbf", "domainColor": "#bfbfbf", "labelFontSize": 9, "labelColor": "#404040", "labelPadding": 5, "titleFontSize": 9, "titleFontWeight": "bold", "titleColor": "#262626", "titlePadding": 12}}
},
"layer": [
  {"data": {"name": "tracks"},
   "mark": {"type": "line", "clip": true, "strokeWidth": 1.5, "opacity": 0.45, "strokeDash": [1.2, 1.2]},
   "encoding": {"detail": {"field": "t", "type": "nominal"},
     "color": {"datum": "ANOMS Data", "type": "nominal",
       "scale": {"domain": ["ANOMS Data", "INM Standard Profile", "User-Defined Profile"], "range": ["#ff0000", "#000000", "#f2ee00"]},
       "legend": {"title": null, "orient": "none", "legendX": 587, "legendY": 264, "symbolType": "stroke", "symbolStrokeWidth": 3, "symbolSize": 441, "labelFontSize": 9, "labelColor": "#404040", "strokeColor": "#a6a6a6", "fillColor": "white", "padding": 4, "rowPadding": 2, "labelOffset": 3,
         "encode": {"symbols": {"update": {"strokeOpacity": {"signal": "datum.value === 'ANOMS Data' ? 0 : 1"}, "opacity": {"value": 1}, "strokeDash": {"value": [1, 0]}}}}}}}},
  {"data": {"name": "dots"},
   "mark": {"type": "circle", "size": 3, "color": "#e08080", "opacity": 0.8}},
  {"data": {"name": "profiles"},
   "mark": {"type": "line", "strokeWidth": 2.5, "clip": true},
   "encoding": {"detail": {"field": "s", "type": "nominal"},
     "color": {"field": "s", "type": "nominal",
       "legend": {"title": null, "orient": "none", "legendX": 587, "legendY": 264, "symbolType": "stroke", "symbolStrokeWidth": 3, "symbolSize": 441, "labelFontSize": 9, "labelColor": "#404040", "strokeColor": "#a6a6a6", "fillColor": "white", "padding": 4, "rowPadding": 2, "labelOffset": 3,
         "encode": {"symbols": {"update": {"strokeOpacity": {"signal": "datum.value === 'ANOMS Data' ? 0 : 1"}, "opacity": {"value": 1}, "strokeDash": {"value": [1, 0]}}}}}}}}
]
}
